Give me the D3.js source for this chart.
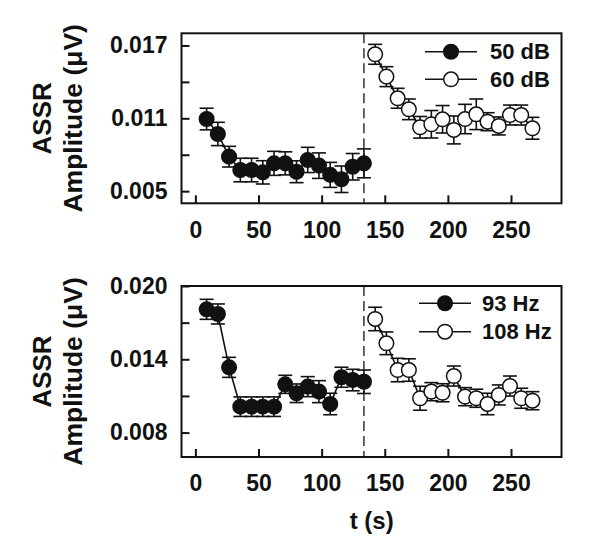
<!DOCTYPE html>
<html><head><meta charset="utf-8">
<script src="https://cdn.jsdelivr.net/npm/d3@7"></script>
<style>body{margin:0;background:#fff}svg{display:block}text{font-family:"Liberation Sans",Arial,sans-serif;font-weight:bold;fill:#111}</style>
</head><body><div id="chart"></div>
<script>
// ---- data ----
const tFirst  = [8.9, 17.8, 26.7, 35.6, 44.5, 53.4, 62.3, 71.2, 80.1, 89.0, 97.9, 106.8, 115.7, 124.6, 133.5];
const tSecond = [142.4, 151.3, 160.2, 169.1, 178.0, 186.9, 195.8, 204.7, 213.6, 222.5, 231.4, 240.3, 249.2, 258.1, 267.0];

const dB50     = [0.01094, 0.00971, 0.00784, 0.00674, 0.00674, 0.00655, 0.00729, 0.00729, 0.00660, 0.00757, 0.00710, 0.00634, 0.00598, 0.00701, 0.00729];
const dB50Err  = [0.00089, 0.00096, 0.00085, 0.00097, 0.00097, 0.00096, 0.00099, 0.00095, 0.00090, 0.00104, 0.00105, 0.00103, 0.00109, 0.00109, 0.00119];
const dB60     = [0.01627, 0.01443, 0.01265, 0.01174, 0.01026, 0.01051, 0.01092, 0.01004, 0.01094, 0.01133, 0.01072, 0.01037, 0.01127, 0.01127, 0.01018];
const dB60Err  = [0.00082, 0.00082, 0.00082, 0.00085, 0.00089, 0.00113, 0.00113, 0.00115, 0.00121, 0.00126, 0.00074, 0.00074, 0.00082, 0.00082, 0.00090];

const hz93     = [0.01809, 0.01771, 0.01334, 0.01012, 0.01012, 0.01012, 0.01012, 0.01195, 0.01122, 0.01176, 0.01135, 0.01034, 0.01253, 0.01230, 0.01216];
const hz93Err  = [0.00082, 0.00082, 0.00082, 0.00080, 0.00080, 0.00080, 0.00080, 0.00074, 0.00076, 0.00082, 0.00090, 0.00088, 0.00082, 0.00088, 0.00096];
const hz108    = [0.01730, 0.01531, 0.01312, 0.01312, 0.01081, 0.01135, 0.01126, 0.01263, 0.01094, 0.01081, 0.01034, 0.01108, 0.01181, 0.01081, 0.01061];
const hz108Err = [0.00096, 0.00093, 0.00096, 0.00092, 0.00098, 0.00074, 0.00074, 0.00082, 0.00074, 0.00074, 0.00088, 0.00082, 0.00082, 0.00082, 0.00074];

const xTicks = [0, 50, 100, 150, 200, 250];
const topYTicks = [0.005, 0.011, 0.017];
const topYMinor = [0.008, 0.014];
const botYTicks = [0.008, 0.014, 0.020];
const botYMinor = [0.011, 0.017];
const switchTime = 133.5;

const panels = [
  {y0: 33.3, y1: 203.3, domain: [0.004, 0.018], ticks: topYTicks, minor: topYMinor,
   series: [{name: "50 dB", t: tFirst, v: dB50, e: dB50Err, filled: true},
            {name: "60 dB", t: tSecond, v: dB60, e: dB60Err, filled: false}],
   legendY: [51.7, 79.3], legendX: [425, 477], legendText: 490},
  {y0: 286, y1: 457, domain: [0.006, 0.020], ticks: botYTicks, minor: botYMinor,
   series: [{name: "93 Hz", t: tFirst, v: hz93, e: hz93Err, filled: true},
            {name: "108 Hz", t: tSecond, v: hz108, e: hz108Err, filled: false}],
   legendY: [303.3, 331.7], legendX: [419, 471], legendText: 482}
];

const W = 600, H = 540;
const xL = 181.5, xR = 561.5;
const svg = d3.select("#chart").append("svg").attr("width", W).attr("height", H);
const x = d3.scaleLinear().domain([-11, 290]).range([xL, xR]);
const R = 7.3, CAP = 7;

panels.forEach(p => {
  const y = d3.scaleLinear().domain(p.domain).range([p.y1, p.y0]);
  const g = svg.append("g");

  // dashed divider
  g.append("line").attr("x1", x(switchTime)).attr("x2", x(switchTime))
    .attr("y1", p.y0).attr("y2", p.y1)
    .attr("stroke", "#333").attr("stroke-width", 1.5).attr("stroke-dasharray", "10,5");

  // axes
  const xa = g.append("g").attr("transform", `translate(0,${p.y1})`)
    .call(d3.axisBottom(x).tickValues(xTicks).tickSize(-8).tickPadding(18));
  const ya = g.append("g").attr("transform", `translate(${xL},0)`)
    .call(d3.axisLeft(y).tickValues(p.ticks).tickSize(-8).tickPadding(14).tickFormat(d3.format(".3f")));
  const ym = g.append("g").attr("transform", `translate(${xL},0)`)
    .call(d3.axisLeft(y).tickValues(p.minor).tickSize(-8).tickFormat(""));
  [xa, ya, ym].forEach(a => {
    a.select(".domain").remove();
    a.selectAll(".tick line").attr("stroke", "#111").attr("stroke-width", 2);
    a.selectAll("text").style("font-size", "23px").attr("fill", "#111");
  });

  // frame
  g.append("rect").attr("x", xL).attr("y", p.y0).attr("width", xR - xL).attr("height", p.y1 - p.y0)
    .attr("fill", "none").attr("stroke", "#111").attr("stroke-width", 2);

  // y title
  const cy = (p.y0 + p.y1) / 2;
  g.append("text").attr("transform", `translate(42,${cy}) rotate(-90)`)
    .attr("text-anchor", "middle").attr("dominant-baseline", "central")
    .style("font-size", "26px").text("ASSR");
  g.append("text").attr("transform", `translate(73,${cy}) rotate(-90)`)
    .attr("text-anchor", "middle").attr("dominant-baseline", "central")
    .style("font-size", "26.5px").text("Amplitude (\u03bcV)");

  // series
  p.series.forEach((s, si) => {
    const pts = s.t.map((t, i) => ({t, v: s.v[i], e: s.e[i]}));
    const sg = g.append("g");
    sg.append("path").datum(pts)
      .attr("d", d3.line().x(d => x(d.t)).y(d => y(d.v)))
      .attr("fill", "none").attr("stroke", "#111").attr("stroke-width", 1.6);
    const eb = sg.selectAll(".eb").data(pts).enter().append("g").attr("stroke", "#111").attr("stroke-width", 1.6);
    eb.append("line").attr("x1", d => x(d.t)).attr("x2", d => x(d.t))
      .attr("y1", d => y(d.v - d.e)).attr("y2", d => y(d.v + d.e));
    eb.append("line").attr("x1", d => x(d.t) - CAP).attr("x2", d => x(d.t) + CAP)
      .attr("y1", d => y(d.v + d.e)).attr("y2", d => y(d.v + d.e));
    eb.append("line").attr("x1", d => x(d.t) - CAP).attr("x2", d => x(d.t) + CAP)
      .attr("y1", d => y(d.v - d.e)).attr("y2", d => y(d.v - d.e));
    sg.selectAll("circle").data(pts).enter().append("circle")
      .attr("cx", d => x(d.t)).attr("cy", d => y(d.v)).attr("r", R)
      .attr("fill", s.filled ? "#111" : "#fff").attr("stroke", "#111").attr("stroke-width", 1.5);

    // legend
    const ly = p.legendY[si];
    g.append("line").attr("x1", p.legendX[0]).attr("x2", p.legendX[1]).attr("y1", ly).attr("y2", ly)
      .attr("stroke", "#111").attr("stroke-width", 1.6);
    g.append("circle").attr("cx", (p.legendX[0] + p.legendX[1]) / 2).attr("cy", ly).attr("r", R)
      .attr("fill", s.filled ? "#111" : "#fff").attr("stroke", "#111").attr("stroke-width", 1.5);
    g.append("text").attr("x", p.legendText).attr("y", ly).attr("dominant-baseline", "central")
      .style("font-size", "22px").text(s.name);
  });
});

svg.append("text").attr("x", 371.7).attr("y", 520).attr("text-anchor", "middle")
  .attr("dominant-baseline", "central").style("font-size", "24px").text("t (s)");
</script></body></html>
